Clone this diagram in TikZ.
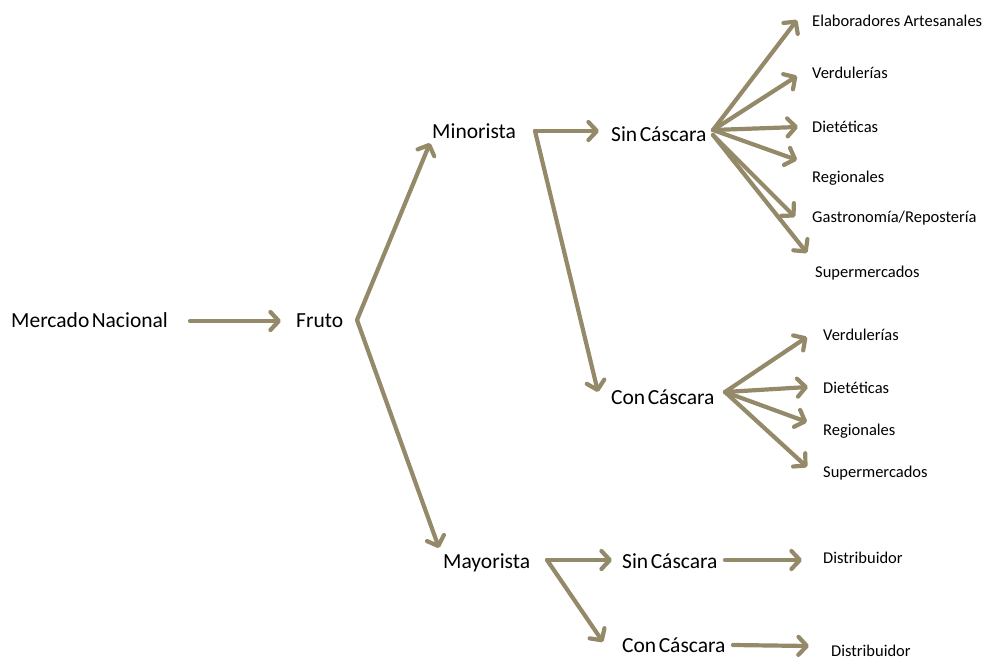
\documentclass[tikz,border=0pt]{standalone}
\usepackage{fontspec}
\setmainfont{Carlito}
\usetikzlibrary{arrows.meta}
\definecolor{arrowc}{RGB}{148,138,106}
\newcommand\mybigfont{\fontsize{21.5}{25}\selectfont\spaceskip=2.5pt plus 1pt\relax}
\begin{document}
\begin{tikzpicture}[x=1pt,y=-1pt,
  big/.style={anchor=base west,inner sep=0pt,font=\mybigfont},
  small/.style={anchor=base west,inner sep=0pt,font=\fontsize{16.5}{19}\selectfont},
  conn/.style={draw=arrowc,line width=4.2pt,line cap=round,line join=round,
    -{Straight Barb[length=8.5pt,width=18pt,line cap=round,line join=round]}}]
\useasboundingbox (0,0) rectangle (985,659);
% main labels
\node[big] (mercado) at (11,327) {Mercado Nacional};
\node[big] (fruto) at (296,327) {Fruto};
\node[big] (minor) at (432,138) {Minorista};
\node[big] (sinA) at (611,141) {Sin Cáscara};
\node[big] (conA) at (611,404) {Con Cáscara};
\node[big] (mayor) at (443,568) {Mayorista};
\node[big] (sinB) at (622,568) {Sin Cáscara};
\node[big] (conB) at (622,652) {Con Cáscara};
% small labels
\node[small] (elab) at (812,26) {Elaboradores Artesanales};
\node[small] (verdA) at (812,78) {Verdulerías};
\node[small] (dietA) at (812,132) {Dietéticas};
\node[small] (regA) at (812,182) {Regionales};
\node[small] (gast) at (812,222) {Gastronomía/Repostería};
\node[small] (supA) at (815,277) {Supermercados};
\node[small] (verdB) at (823,340) {Verdulerías};
\node[small] (dietB) at (823,393) {Dietéticas};
\node[small] (regB) at (823,435) {Regionales};
\node[small] (supB) at (823,477) {Supermercados};
\node[small] (distA) at (823,563) {Distribuidor};
\node[small] (distB) at (831,656) {Distribuidor};
% connector endpoints
\coordinate (m-o) at (190,321);  \coordinate (f-i) at (281,321);
\coordinate (f-o) at (357,320);
\coordinate (mi-i) at (430,143); \coordinate (ma-i) at (439,548);
\coordinate (mi-o) at (535,131); \coordinate (sA-i) at (599,131);
\coordinate (cA-i) at (598,392);
\coordinate (sA-o) at (713,130); \coordinate (sA-o2) at (713,135);
\coordinate (elab-i) at (797,20); \coordinate (verdA-i) at (797,76);
\coordinate (dietA-i) at (798,127); \coordinate (regA-i) at (797,160);
\coordinate (gast-i) at (795,217); \coordinate (supA-i) at (807,253);
\coordinate (cA-o) at (725,392);
\coordinate (verdB-i) at (807,337); \coordinate (dietB-i) at (808,387);
\coordinate (regB-i) at (807,422); \coordinate (supB-i) at (807,467);
\coordinate (ma-o) at (547,560); \coordinate (sB-i) at (612,560);
\coordinate (cB-i) at (603,642);
\coordinate (sB-o) at (725,560); \coordinate (dA-i) at (802,560);
\coordinate (cB-o) at (733,645); \coordinate (dB-i) at (809,646);
% connectors
\draw[conn] (m-o) -- (f-i);
\draw[conn] (f-o) -- (mi-i);
\draw[conn] (f-o) -- (ma-i);
\draw[conn] (mi-o) -- (sA-i);
\draw[conn] (mi-o) -- (cA-i);
\draw[conn] (sA-o) -- (elab-i);
\draw[conn] (sA-o) -- (verdA-i);
\draw[conn] (sA-o) -- (dietA-i);
\draw[conn] (sA-o) -- (regA-i);
\draw[conn] (sA-o2) -- (gast-i);
\draw[conn] (sA-o2) -- (supA-i);
\draw[conn] (cA-o) -- (verdB-i);
\draw[conn] (cA-o) -- (dietB-i);
\draw[conn] (cA-o) -- (regB-i);
\draw[conn] (cA-o) -- (supB-i);
\draw[conn] (ma-o) -- (sB-i);
\draw[conn] (ma-o) -- (cB-i);
\draw[conn] (sB-o) -- (dA-i);
\draw[conn] (cB-o) -- (dB-i);
\end{tikzpicture}
\end{document}
